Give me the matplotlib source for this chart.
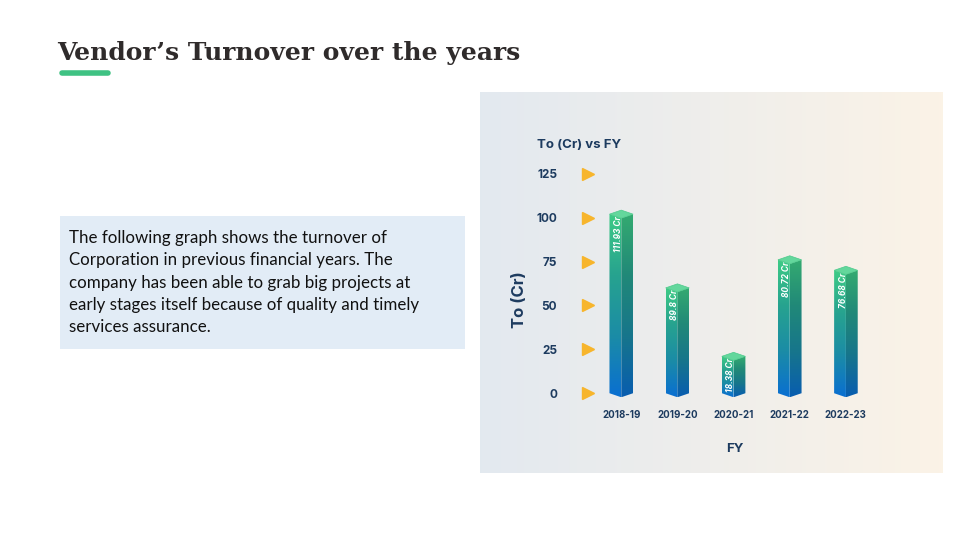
import numpy as np
import matplotlib
matplotlib.use("Agg")
import matplotlib.pyplot as plt
from matplotlib.colors import LinearSegmentedColormap
from matplotlib.patches import Polygon, Rectangle
from matplotlib.transforms import blended_transform_factory

# Data
years = ['2018-19', '2019-20', '2020-21', '2021-22', '2022-23']
turnover_labels = ['111.93 Cr', '89.8 Cr', '18.38 Cr', '80.72 Cr', '76.68 Cr']
bar_heights = [102, 60, 21, 76, 70]   # drawn heights on the To (Cr) axis
y_ticks = [0, 25, 50, 75, 100, 125]

intro_lines = [
    "The following graph shows the turnover of",
    "Corporation in previous financial years. The",
    "company has been able to grab big projects at",
    "early stages itself because of quality and timely",
    "services assurance.",
]

W, H = 960, 540
NAVY = '#1d3b5f'


def fx(x):
    return x / W


def fy(y):
    return 1 - y / H


fig = plt.figure(figsize=(9.6, 5.4), dpi=100)
fig.patch.set_facecolor('white')

# Slide title + green underline
fig.text(fx(57), fy(60), "Vendor\u2019s Turnover over the years", fontsize=18,
         family='DejaVu Serif', weight='bold', color='#2f2b2b', va='baseline')
fig.add_artist(plt.Line2D([fx(62), fx(108)], [fy(73), fy(73)], color='#3fc283',
                          lw=4, solid_capstyle='round'))

# Intro text box
fig.add_artist(Rectangle((fx(60), fy(349)), fx(465) - fx(60), fy(216) - fy(349),
                         transform=fig.transFigure, facecolor='#e2ecf6', edgecolor='none'))
for i, line in enumerate(intro_lines):
    fig.text(fx(69), fy(238 + i * 22.3), line, fontsize=12.2, family='Lato',
             color='#111111', va='center', ha='left')

# Chart background panel
ax_bg = fig.add_axes([fx(480), fy(473), fx(943) - fx(480), fy(92) - fy(473)])
grad = np.linspace(0, 1, 256)[None, :, None]
c0 = np.array([0.890, 0.914, 0.940])
c1 = np.array([0.985, 0.953, 0.905])
ax_bg.imshow(c0 + (c1 - c0) * grad, aspect='auto', extent=[0, 1, 0, 1])
ax_bg.set_axis_off()

# Bar chart
ax = fig.add_axes([fx(596), fy(402), fx(874) - fx(596), fy(165) - fy(402)])
ax.patch.set_alpha(0)
xlim = (-0.45, 4.5)
ylim = (-5, 130)

cmap = LinearSegmentedColormap.from_list('bar', ['#0a6fd1', '#1b8ca6', '#27a38f', '#3ecb86'])
half_w = 0.21
dep = 2.3
x_pos = np.arange(len(years))

for x, h, lab in zip(x_pos, bar_heights, turnover_labels):
    left = Polygon([(x - half_w, 0), (x, -dep), (x, h - dep), (x - half_w, h)], closed=True,
                   facecolor='none', edgecolor='none')
    right = Polygon([(x, -dep), (x + half_w, 0), (x + half_w, h), (x, h - dep)], closed=True,
                    facecolor='none', edgecolor='none')
    ax.add_patch(left)
    ax.add_patch(right)
    g = np.linspace(1, 0, 200)[:, None]
    im1 = ax.imshow(cmap(g), extent=[x - half_w, x, -dep, h], aspect='auto', zorder=2)
    im1.set_clip_path(left)
    dark = cmap(g).copy()
    dark[..., :3] *= 0.84
    im2 = ax.imshow(dark, extent=[x, x + half_w, -dep, h], aspect='auto', zorder=2)
    im2.set_clip_path(right)
    ax.add_patch(Polygon([(x - half_w, h), (x, h - dep), (x + half_w, h), (x, h + dep)],
                         closed=True, facecolor='#63d79c', edgecolor='#4cc98b', lw=0.5, zorder=3))
    ax.text(x - 0.05, h - 1.2, lab, rotation=90, ha='center', va='top', fontsize=6,
            style='italic', weight='bold', color='white', family='Inter', zorder=4)

ax.set_xlim(*xlim)
ax.set_ylim(*ylim)
ax.set_xticks(x_pos)
ax.set_xticklabels(years, fontsize=7, weight='bold', color=NAVY, family='Inter')
ax.set_yticks(y_ticks)
ax.set_yticklabels([str(v) for v in y_ticks], fontsize=8.5, weight='bold', color=NAVY,
                   family='Inter')
ax.tick_params(axis='x', length=0, pad=6)
ax.tick_params(axis='y', length=0, pad=28)
for s in ax.spines.values():
    s.set_visible(False)

# orange arrow markers at each tick
trans = blended_transform_factory(ax.transAxes, ax.transData)
ax.plot([-0.028] * len(y_ticks), y_ticks, linestyle='none', marker='>', markersize=9,
        color='#f7b52c', transform=trans, clip_on=False)

ax.set_xlabel('FY', fontsize=9.5, weight='bold', color=NAVY, family='Inter', labelpad=16)
fig.text(fx(519), fy(300), 'To (Cr)', rotation=90, fontsize=12, weight='bold', color=NAVY,
         family='Inter', ha='center', va='center')
fig.text(fx(537), fy(145), 'To (Cr) vs FY', fontsize=9.5, weight='bold', color=NAVY,
         family='Inter', ha='left', va='center')

fig.savefig('out.png', dpi=100)
